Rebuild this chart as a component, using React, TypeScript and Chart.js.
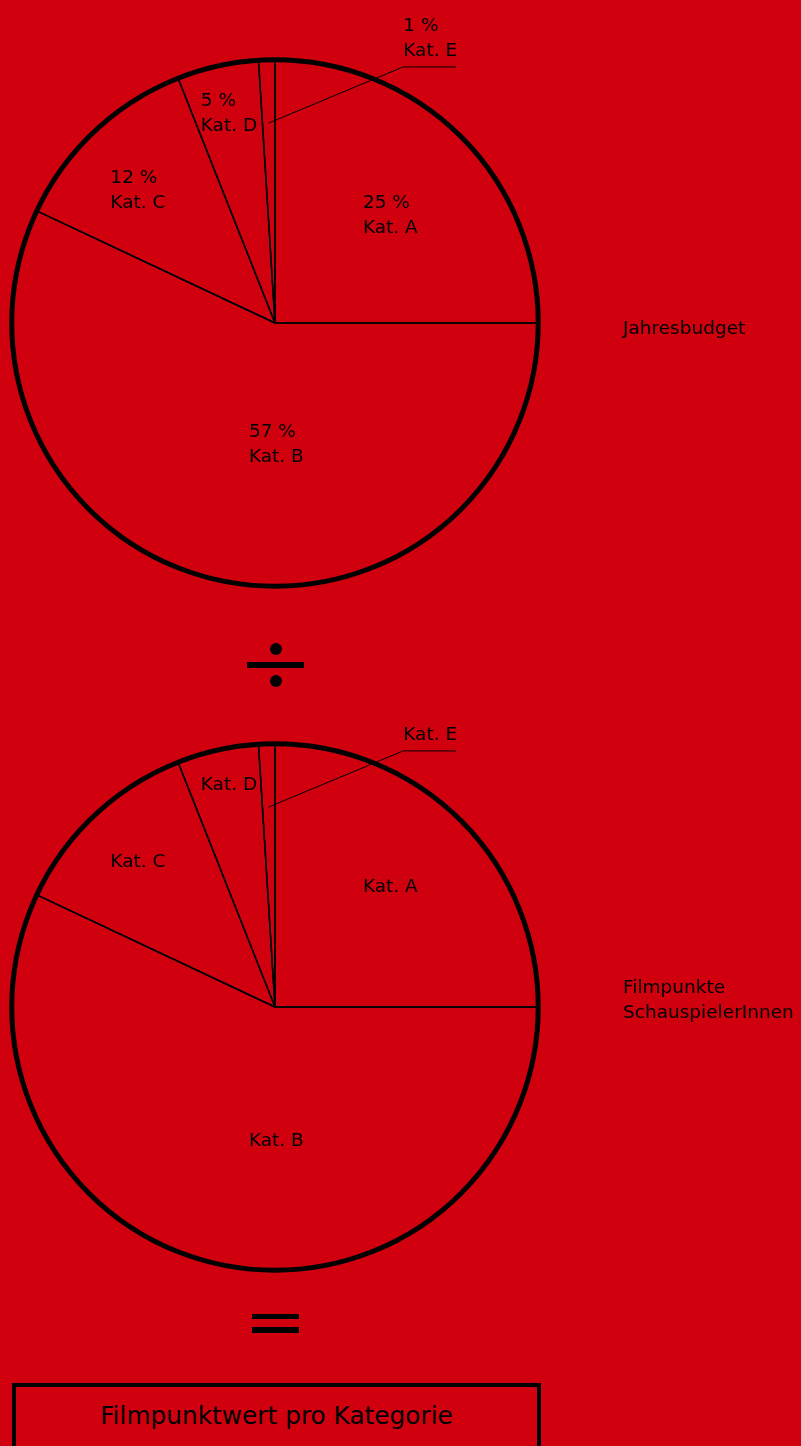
import React, { useEffect, useRef } from "react";
import { Chart, registerables } from "chart.js";

Chart.register(...registerables);

// ---------- data ----------
const categories = ["Kat. A", "Kat. B", "Kat. C", "Kat. D", "Kat. E"];
const budgetShares = [25, 57, 12, 5, 1];
const filmPointShares = [25, 57, 12, 5, 1];
const budgetTitle = ["Jahresbudget"];
const pointsTitle = ["Filmpunkte", "SchauspielerInnen"];
const resultLabel = "Filmpunktwert pro Kategorie";

// ---------- style / layout ----------
const RED = "#D1000F";
const INK = "#000000";
const FONT = "'DejaVu Sans', 'Liberation Sans', sans-serif";
const labelAngleShift = [-7.6, -2, -6.5, -6.3, 0]; // degrees, relative to slice middle
const labelRadius = [0.55, 0.538, 0.82, 0.87, 0.76]; // fraction of outer radius
const leaderIndex = 4;
const leaderElbow = { angleDeg: -63.4, radius: 1.088 };
const leaderLength = 53;
const titleX = 623;
const lineGap = 25;

function makeDecor(titleLines: string[], showPercent: boolean) {
  return {
    id: "pieDecor",
    afterDatasetsDraw(chart: any) {
      const ctx: CanvasRenderingContext2D = chart.ctx;
      const meta = chart.getDatasetMeta(0);
      const arcs = meta.data as any[];
      if (!arcs.length) return;
      const p0 = arcs[0].getProps(["x", "y", "outerRadius"], true);
      const cx = p0.x;
      const cy = p0.y;
      const R = p0.outerRadius;
      const values = chart.data.datasets[0].data as number[];
      ctx.save();
      // outer ring
      ctx.beginPath();
      ctx.arc(cx, cy, R, 0, Math.PI * 2);
      ctx.lineWidth = 5;
      ctx.strokeStyle = INK;
      ctx.stroke();

      ctx.fillStyle = INK;
      ctx.font = `18.5px ${FONT}`;
      ctx.textAlign = "left";
      ctx.textBaseline = "alphabetic";

      arcs.forEach((arc, i) => {
        const p = arc.getProps(["startAngle", "endAngle"], true);
        const lines = showPercent ? [`${values[i]} %`, categories[i]] : [categories[i]];
        const n = lines.length;
        const a = (p.startAngle + p.endAngle) / 2 + (labelAngleShift[i] * Math.PI) / 180;
        const r = labelRadius[i] * R;
        const px = cx + r * Math.cos(a);
        const py = cy + r * Math.sin(a);
        if (i === leaderIndex) {
          const ea = (leaderElbow.angleDeg * Math.PI) / 180;
          const ex = cx + leaderElbow.radius * R * Math.cos(ea);
          const ey = cy + leaderElbow.radius * R * Math.sin(ea);
          ctx.beginPath();
          ctx.moveTo(px, py);
          ctx.lineTo(ex, ey);
          ctx.lineTo(ex + leaderLength, ey);
          ctx.lineWidth = 1;
          ctx.stroke();
          lines.forEach((t, k) => {
            ctx.fillText(t, ex, ey - 11 - (n - 1 - k) * lineGap);
          });
        } else if (py > cy) {
          // lower half: block grows upward from anchor
          lines.forEach((t, k) => ctx.fillText(t, px, py - (n - 1 - k) * lineGap));
        } else {
          // upper half: block grows downward from anchor
          lines.forEach((t, k) => ctx.fillText(t, px, py + k * lineGap));
        }
      });

      const nt = titleLines.length;
      titleLines.forEach((t, k) => {
        ctx.fillText(t, titleX, cy + 11 - (nt - 1 - k) * lineGap);
      });
      ctx.restore();
    },
  };
}

function PieCanvas({ values, title, showPercent, top }: { values: number[]; title: string[]; showPercent: boolean; top: number }) {
  const ref = useRef<HTMLCanvasElement>(null);
  useEffect(() => {
    const chart = new Chart(ref.current as HTMLCanvasElement, {
      type: "pie",
      data: {
        labels: categories,
        datasets: [
          {
            data: values,
            backgroundColor: "rgba(0,0,0,0)",
            borderColor: INK,
            borderWidth: 1.5,
          },
        ],
      },
      options: {
        responsive: false,
        animation: false,
        events: [],
        layout: { padding: { left: 11, right: 262, top: 59, bottom: 33 } },
        plugins: { legend: { display: false }, tooltip: { enabled: false } },
      },
      plugins: [makeDecor(title, showPercent)],
    } as any);
    return () => chart.destroy();
  }, []);
  return (
    <canvas
      ref={ref}
      width={801}
      height={620}
      style={{ position: "absolute", left: 0, top, width: 801, height: 620, display: "block" }}
    />
  );
}

const block = (s: React.CSSProperties): React.CSSProperties => ({ position: "absolute", background: INK, ...s });

export default function App() {
  return (
    <div
      style={{
        position: "absolute",
        left: 0,
        top: 0,
        width: 801,
        height: 1446,
        overflow: "hidden",
        background: RED,
      }}
    >
      <PieCanvas values={budgetShares} title={budgetTitle} showPercent={true} top={0} />
      {/* division sign */}
      <div style={block({ left: 270, top: 643, width: 12, height: 12, borderRadius: "50%" })} />
      <div style={block({ left: 247, top: 662, width: 57, height: 6 })} />
      <div style={block({ left: 270, top: 675, width: 12, height: 12, borderRadius: "50%" })} />
      <PieCanvas values={filmPointShares} title={pointsTitle} showPercent={false} top={684} />
      {/* equal sign */}
      <div style={block({ left: 252, top: 1313.5, width: 47, height: 5.5 })} />
      <div style={block({ left: 252, top: 1327, width: 47, height: 5.5 })} />
      {/* result box */}
      <div
        style={{
          position: "absolute",
          left: 12,
          top: 1383,
          width: 529,
          height: 110,
          boxSizing: "border-box",
          border: `4px solid ${INK}`,
        }}
      >
        <div
          style={{
            position: "absolute",
            left: 0,
            right: 0,
            top: 13.5,
            textAlign: "center",
            fontFamily: FONT,
            fontSize: 24.8,
            lineHeight: "29px",
            color: INK,
            whiteSpace: "nowrap",
          }}
        >
          {resultLabel}
        </div>
      </div>
    </div>
  );
}
